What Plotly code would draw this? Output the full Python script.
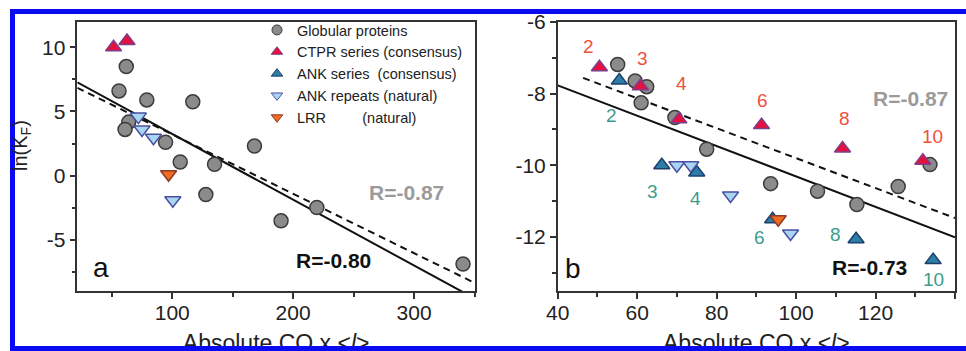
import plotly.graph_objects as go

# ---------------- data ----------------
# Panel a: ln(kF) vs absolute contact order x <l>
glob_a_x = [62, 56, 79, 117, 64, 61, 94.5, 106.6, 135, 168, 127.8, 219.6, 190, 340.5]
glob_a_y = [8.5, 6.6, 5.9, 5.75, 4.17, 3.6, 2.6, 1.06, 0.88, 2.3, -1.48, -2.49, -3.53, -6.9]
ctpr_a_x = [51.5, 62.6]
ctpr_a_y = [10.0, 10.5]
ankrep_a_x = [72, 75, 84.5, 100.5]
ankrep_a_y = [4.6, 3.6, 2.95, -1.92]
lrr_a_x = [97]
lrr_a_y = [0.1]

# Panel b
glob_b_x = [55.1, 59.5, 62.4, 61, 69.5, 77.5, 93.6, 105.4, 115.3, 125.7, 133.7]
glob_b_y = [-7.19, -7.65, -7.81, -8.26, -8.67, -9.55, -10.51, -10.72, -11.09, -10.59, -9.98]
ctpr_b_x = [50.5, 60.8, 70.5, 91.3, 111.7, 131.9]
ctpr_b_y = [-7.27, -7.8, -8.72, -8.88, -9.53, -9.87]
ank_b_x = [55.5, 66.2, 75, 94.1, 115.1, 134.5]
ank_b_y = [-7.64, -10.0, -10.2, -11.5, -12.06, -12.64]
ankrep_b_x = [70, 73.5, 83.5, 98.6]
ankrep_b_y = [-10.0, -10.0, -10.84, -11.9]
lrr_b_x = [95.5]
lrr_b_y = [-11.5]
repeat_counts = [2, 3, 4, 6, 8, 10]

# Linear fits (intercept, slope, x start, x end)
fit_a_all = (8.38, -0.0513, 21.5, 350.4)
fit_a_glob = (7.84, -0.0463, 21.5, 350.4)
fit_b_all = (-6.08, -0.0423, 40, 140)
fit_b_glob = (-5.63, -0.0417, 46.4, 140)

r_a_all, r_a_glob = "R=-0.80", "R=-0.87"
r_b_all, r_b_glob = "R=-0.73", "R=-0.87"

# Tick labels (plain hyphen minus)
ya_ticks = [10, 5, 0, -5]
yb_ticks = [-6, -8, -10, -12]
xa_ticks = [100, 200, 300]
xb_ticks = [40, 60, 80, 100, 120, 140]

xlabel = "Absolute CO x &lt;<i>l</i>&gt;"
ylabel = "ln(K<sub>F</sub>)"

legend_names = ["Globular proteins", "CTPR series (consensus)", "ANK series  (consensus)",
                "ANK repeats (natural)", "LRR         (natural)"]

# ---------------- styles ----------------
FONT = "Liberation Sans, Arial, sans-serif"
W, H = 966, 351
GLOB = dict(color="#8b8b8b", line=dict(color="#3c3c3c", width=1.5))
CTPR = dict(color="#e5103e", line=dict(color="#7b3f8c", width=1.5))
ANKC = dict(color="#2d7ea6", line=dict(color="#1e3f6c", width=1.5))
ANKR = dict(color="#a8d6f2", line=dict(color="#4b4fa0", width=1.5))
LRR = dict(color="#f26a1c", line=dict(color="#8a3c2c", width=1.5))
RED_LBL = "#f0503c"
TEAL_LBL = "#3d9c8c"

# offsets (px) of repeat-count labels from their markers
ctpr_lbl_shift = [(-11, 21), (2, 28), (3, 36), (1, 25), (2, 30), (10, 24)]
ank_lbl_shift = [(-8, -35), (-9, -26), (-1, -26), (-13, -18), (-21, 5), (0, -19)]


def px_domain(a, b, total):
    return [a / total, b / total]


def ydom(top_px, bottom_px):
    return [1 - bottom_px / H, 1 - top_px / H]


fig = go.Figure()


def scatter(x, y, symbol, size, style, xa, ya):
    fig.add_trace(go.Scatter(
        x=x, y=y, mode="markers", showlegend=False,
        xaxis=xa, yaxis=ya,
        marker=dict(symbol=symbol, size=size, color=style["color"], line=style["line"]),
    ))


def fit_line(fit, xa, ya, dash):
    b0, b1, x0, x1 = fit
    fig.add_trace(go.Scatter(
        x=[x0, x1], y=[b0 + b1 * x0, b0 + b1 * x1], mode="lines", showlegend=False,
        xaxis=xa, yaxis=ya, line=dict(color="#111111", width=2, dash=dash),
    ))


DASH = "7px,5px"

# Panel a
fit_line(fit_a_glob, "x", "y", DASH)
fit_line(fit_a_all, "x", "y", "solid")
scatter(glob_a_x, glob_a_y, "circle", 14, GLOB, "x", "y")
scatter(ctpr_a_x, ctpr_a_y, "triangle-up", 14, CTPR, "x", "y")
scatter(ankrep_a_x, ankrep_a_y, "triangle-down", 14, ANKR, "x", "y")
scatter(lrr_a_x, lrr_a_y, "triangle-down", 14, LRR, "x", "y")

# Panel b
fit_line(fit_b_glob, "x2", "y2", DASH)
fit_line(fit_b_all, "x2", "y2", "solid")
scatter(glob_b_x, glob_b_y, "circle", 14, GLOB, "x2", "y2")
scatter(ank_b_x, ank_b_y, "triangle-up", 14, ANKC, "x2", "y2")
scatter(ankrep_b_x, ankrep_b_y, "triangle-down", 14, ANKR, "x2", "y2")
scatter(ctpr_b_x, ctpr_b_y, "triangle-up", 14, CTPR, "x2", "y2")
scatter(lrr_b_x, lrr_b_y, "triangle-down", 14, LRR, "x2", "y2")

# Legend keys (smaller symbols than the data markers)
for nm, sym, st in zip(legend_names,
                       ["circle", "triangle-up", "triangle-up", "triangle-down", "triangle-down"],
                       [GLOB, CTPR, ANKC, ANKR, LRR]):
    fig.add_trace(go.Scatter(
        x=[None], y=[None], mode="markers", name=nm, xaxis="x", yaxis="y",
        marker=dict(symbol=sym, size=10, color=st["color"], line=dict(color=st["line"]["color"], width=1)),
    ))

# X-axis titles, clipped at the lower frame edge
TITLE_Y = 1
for xa, rng in [("x", fit_a_all), ("x2", fit_b_all)]:
    fig.add_trace(go.Scatter(
        x=[(rng[2] + rng[3]) / 2], y=[TITLE_Y], mode="text", text=[xlabel],
        textposition="middle center", cliponaxis=True, showlegend=False,
        xaxis=xa, yaxis="y3", textfont=dict(family=FONT, size=23, color="#222222"),
        hoverinfo="skip",
    ))

# ---------------- axes ----------------
tickfont = dict(family=FONT, size=21, color="#222222")
common = dict(
    showline=True, linecolor="#333333", linewidth=1.5, mirror=True,
    ticks="outside", ticklen=6, tickwidth=1.5, tickcolor="#333333",
    showgrid=False, zeroline=False, tickfont=tickfont, automargin=False,
)
minor_style = dict(ticklen=4, tickcolor="#333333", tickwidth=1.5, ticks="outside")
dom_y = ydom(21.7, 291)

fig.update_layout(
    xaxis=dict(domain=px_domain(77.3, 475, W), range=[21.5, 350.4], anchor="y",
               tickvals=xa_ticks, ticktext=[str(v) for v in xa_ticks], ticklabelstandoff=-4,
               minor=dict(tickvals=[50, 150, 250, 350], **minor_style), **common),
    yaxis=dict(domain=dom_y, range=[-9, 12], anchor="x",
               tickvals=ya_ticks, ticktext=[str(v) for v in ya_ticks],
               minor=dict(tickvals=[7.5, 2.5, -2.5, -7.5], **minor_style), **common),
    xaxis2=dict(domain=px_domain(557.7, 955, W), range=[40, 140], anchor="y2",
                tickvals=xb_ticks, ticktext=[str(v) for v in xb_ticks], ticklabelstandoff=-4,
                minor=dict(tickvals=[50, 70, 90, 110, 130], **minor_style), **common),
    yaxis2=dict(domain=dom_y, range=[-13.5, -6], anchor="x2",
                tickvals=yb_ticks, ticktext=[str(v) for v in yb_ticks],
                minor=dict(tickvals=[-7, -9, -11, -13], **minor_style), **common),
    yaxis3=dict(domain=[5 / H, 1], range=[0, 346], visible=False, anchor="x", fixedrange=True),
)

# ---------------- annotations ----------------
ann = []


def text(x, y, s, xref, yref, size, color, bold=False, **kw):
    ann.append(dict(x=x, y=y, xref=xref, yref=yref, text=f"<b>{s}</b>" if bold else s,
                    showarrow=False, xanchor="center", yanchor="middle",
                    font=dict(family=FONT, size=size, color=color), **kw))


text(294, -1.35, r_a_glob, "x", "y", 21, "#9a9a9a", bold=True)
text(233, -6.6, r_a_all, "x", "y", 21, "#111111", bold=True)
text(41, -7.2, "a", "x", "y", 28, "#111111")
text(128.7, -8.14, r_b_glob, "x2", "y2", 21, "#9a9a9a", bold=True)
text(118.6, -12.84, r_b_all, "x2", "y2", 21, "#111111", bold=True)
text(43.9, -12.88, "b", "x2", "y2", 28, "#111111")

for n, x, y, (dx, dy) in zip(repeat_counts, ctpr_b_x, ctpr_b_y, ctpr_lbl_shift):
    text(x, y, str(n), "x2", "y2", 19, RED_LBL, xshift=dx, yshift=dy)
for n, x, y, (dx, dy) in zip(repeat_counts, ank_b_x, ank_b_y, ank_lbl_shift):
    text(x, y, str(n), "x2", "y2", 19, TEAL_LBL, xshift=dx, yshift=dy)

text(21 / W, 1 - 146 / H, ylabel, "paper", "paper", 20, "#222222", textangle=-90)

# ---------------- frame ----------------
BLUE = "#0b0bf2"
frame = dict(color=BLUE, width=5)
shapes = [
    dict(type="line", xref="paper", yref="paper", x0=12.5 / W, x1=12.5 / W, y0=0, y1=1 - 9 / H,
         line=frame, layer="above"),
    dict(type="line", xref="paper", yref="paper", x0=10 / W, x1=1, y0=1 - 11.5 / H, y1=1 - 11.5 / H,
         line=frame, layer="above"),
    dict(type="line", xref="paper", yref="paper", x0=10 / W, x1=1, y0=1 - 348.5 / H, y1=1 - 348.5 / H,
         line=frame, layer="above"),
]

fig.update_layout(
    width=W, height=H, margin=dict(l=0, r=0, t=0, b=0, pad=0, autoexpand=False),
    paper_bgcolor="white", plot_bgcolor="rgba(0,0,0,0)",
    annotations=ann, shapes=shapes,
    showlegend=True,
    legend=dict(x=257 / W, y=1 - 14 / H, xanchor="left", yanchor="top",
                bgcolor="rgba(0,0,0,0)", borderwidth=0,
                font=dict(family=FONT, size=14.5, color="#222222"),
                itemclick=False, itemdoubleclick=False, tracegroupgap=0),
    font=dict(family=FONT),
)

fig.write_html("out.html")
